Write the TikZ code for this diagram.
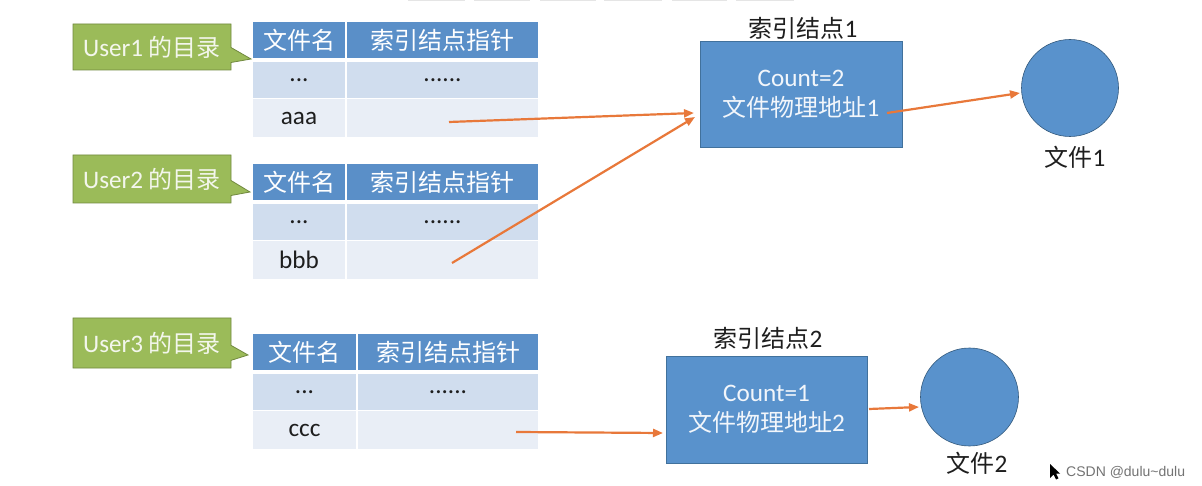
\documentclass[tikz,border=0pt]{standalone}
\usepackage{fontspec}
\setmainfont[Scale=1.05]{Carlito}
\newfontfamily\cjk{Noto Sans CJK SC}
\newfontfamily\wmfont{Liberation Sans}
\usetikzlibrary{shapes.callouts,arrows.meta}
\definecolor{hdr}{HTML}{5A8FC8}
\definecolor{rowa}{HTML}{D0DDEE}
\definecolor{rowb}{HTML}{E9EEF6}
\definecolor{cgreen}{HTML}{9BBB59}
\definecolor{cgreendk}{HTML}{71893F}
\definecolor{ctext}{HTML}{F3F6EC}
\definecolor{boxblue}{HTML}{5992CC}
\definecolor{boxbd}{HTML}{41719C}
\definecolor{arr}{HTML}{E8783A}
\definecolor{ink}{HTML}{1E1E1E}
\newcommand\myfs{\fontsize{24}{30}\selectfont}
\newcommand\dirtable[4]{%
  \node[hcell, minimum width={#3-253-1}] (#1h1) at (253,#2) {\cjk 文件名};
  \node[hcell, minimum width={538-#3-1}] (#1h2) at ({#3+1},#2) {\cjk 索引结点指针};
  \node[bcell, fill=rowa, minimum width={#3-253-1}] (#1a1) at (253,{#2+40}) {...};
  \node[bcell, fill=rowa, minimum width={538-#3-1}] (#1a2) at ({#3+1},{#2+40}) {......};
  \node[bcell, fill=rowb, minimum height=38, minimum width={#3-253-1}] (#1b1) at (253,{#2+77}) {#4};
  \node[bcell, fill=rowb, minimum height=38, minimum width={538-#3-1}] (#1b2) at ({#3+1},{#2+77}) {};
}
\begin{document}
\begin{tikzpicture}[x=1pt,y=-1pt,
  hcell/.style={anchor=north west, inner sep=0pt, outer sep=0pt, fill=hdr, minimum height=36, text=white, font=\myfs},
  bcell/.style={anchor=north west, inner sep=0pt, outer sep=0pt, minimum height=36, text=ink, font=\myfs},
  usernote/.style={rectangle callout, fill=cgreen, draw=cgreendk, line width=0.8pt, minimum width=158, inner sep=0pt, text=ctext, font=\myfs, callout pointer width=15pt},
  inode/.style={rectangle, fill=boxblue, draw=boxbd, line width=0.6pt, inner sep=0pt, align=center, text=white!92!boxblue, font=\myfs},
  fnode/.style={circle, fill=boxblue, draw=boxbd!80!black, line width=0.6pt, inner sep=0pt},
  lbl/.style={text=ink, font=\myfs, inner sep=0pt},
  ptr/.style={draw=arr, line width=2.2pt, -{Triangle[length=10pt,width=8pt]}}]
\useasboundingbox (0,0) rectangle (1202,486);
\fill[white] (0,0) rectangle (1202,486);
% faint bars at top edge
\foreach \a/\b in {408/465,474/530,540/596,604/662,672/727,736/794}
  \fill[black!10] (\a,0) rectangle (\b,1.5);

% tables
\dirtable{ta}{22}{346}{aaa}
\dirtable{tb}{164}{346}{bbb}
\dirtable{tc}{334}{357}{ccc}

% callouts
\coordinate (p1) at (251,59);
\coordinate (p2) at (250,192);
\coordinate (p3) at (248,355);
\node[usernote, minimum height=46, callout absolute pointer={(p1)}] (u1) at (152,47) {User1 {\cjk 的目录}};
\node[usernote, minimum height=48, callout absolute pointer={(p2)}] (u2) at (152,179) {User2 {\cjk 的目录}};
\node[usernote, minimum height=50, callout absolute pointer={(p3)}] (u3) at (152,343) {User3 {\cjk 的目录}};

% index nodes
\node[inode, minimum width=202, minimum height=106] (i1) at (801,94) {Count=2\\{\cjk 文件物理地址}1};
\node[lbl] (l1) at (803,28) {{\cjk 索引结点}1};
\node[inode, minimum width=201, minimum height=107] (i2) at (766.5,409.5) {Count=1\\{\cjk 文件物理地址}2};
\node[lbl] (l2) at (768,338) {{\cjk 索引结点}2};

% files
\node[fnode, minimum size=97] (f1) at (1070,88) {};
\node[lbl] (fl1) at (1075,157) {{\cjk 文件}1};
\node[fnode, minimum size=98] (f2) at (969.5,397) {};
\node[lbl] (fl2) at (977,463) {{\cjk 文件}2};

% connectors
\coordinate (s1) at (449,122);
\coordinate (e1) at (694,113);
\coordinate (s2) at (452,263);
\coordinate (e2) at (695,117);
\coordinate (s3) at (887,113);
\coordinate (e3) at (1020,93);
\coordinate (s4) at (869,409);
\coordinate (e4) at (919,407);
\coordinate (s5) at (516,432);
\coordinate (e5) at (663,433);
\draw[ptr] (s1) -- (e1);
\draw[ptr] (s2) -- (e2);
\draw[ptr] (s3) -- (e3);
\draw[ptr] (s4) -- (e4);
\draw[ptr] (s5) -- (e5);

% watermark
\fill[black] (1050,464) -- (1050,478) -- (1053.5,474.5) -- (1056,479.5) -- (1058.5,478.3) -- (1056,473.5) -- (1060,473.5) -- cycle;
\node[anchor=west, inner sep=0pt, text=black!55, font=\wmfont\fontsize{14}{16}\selectfont] (wm) at (1066,472) {CSDN @dulu\string~dulu};
\end{tikzpicture}
\end{document}
